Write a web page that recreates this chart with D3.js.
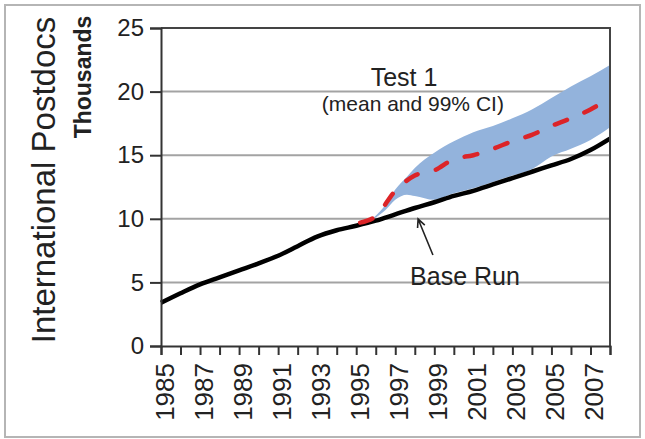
<!DOCTYPE html>
<html>
<head>
<meta charset="utf-8">
<script src="https://cdn.jsdelivr.net/npm/d3@7"></script>
<style>
  html, body { margin: 0; padding: 0; background: #fff; }
  svg { display: block; font-family: "Liberation Sans", Arial, Helvetica, sans-serif; }
</style>
</head>
<body>
<svg id="chart" width="645" height="439"></svg>
<script>
// International postdocs (thousands): base run vs. Test 1 mean with 99% CI
const baseYears = [1985, 1986, 1987, 1988, 1989, 1990, 1991, 1992, 1993, 1994, 1995, 1996,
                   1997, 1998, 1999, 2000, 2001, 2002, 2003, 2004, 2005, 2006, 2007, 2008];
const baseRun = [3.4, 4.15, 4.85, 5.4, 5.95, 6.5, 7.1, 7.85, 8.6, 9.1, 9.45, 9.85,
                 10.35, 10.85, 11.3, 11.8, 12.2, 12.7, 13.2, 13.7, 14.2, 14.7, 15.4, 16.3];

const testYears = [1995.2, 1996, 1997, 1998, 1999, 2000, 2001, 2002, 2003, 2004, 2005, 2006, 2007, 2008];
const testMean  = [9.7, 10.2, 12.2, 13.4, 13.8, 14.7, 15.0, 15.5, 16.1, 16.6, 17.3, 17.9, 18.6, 19.5];

const ciYears = [1995.9, 1996.5, 1997, 1997.6, 1998, 1999, 2000, 2001, 2002, 2003, 2004, 2005, 2006, 2007, 2008];
const ciLow   = [10.0, 10.7, 11.5, 11.9, 11.8, 11.5, 12.0, 12.4, 12.9, 13.4, 13.9, 14.9, 15.5, 16.2, 17.2];
const ciHigh  = [10.1, 11.1, 12.3, 13.3, 14.0, 15.2, 16.1, 16.8, 17.3, 17.9, 18.6, 19.5, 20.4, 21.2, 22.1];

const yTicks = [0, 5, 10, 15, 20, 25];
const xTickYears = d3.range(1985, 2009);
const xLabelYears = [1985, 1987, 1989, 1991, 1993, 1995, 1997, 1999, 2001, 2003, 2005, 2007];

const svg = d3.select("#chart");
const x = d3.scaleLinear().domain([1985, 2008]).range([161, 610]);
const y = d3.scaleLinear().domain([0, 25]).range([346, 28]);

// outer frame
svg.append("rect")
  .attr("x", 5).attr("y", 5).attr("width", 635).attr("height", 432)
  .attr("fill", "none").attr("stroke", "#b5b5b5").attr("stroke-width", 2);

// horizontal gridlines
svg.append("g").selectAll("line")
  .data(yTicks.filter(d => d > 0 && d < 25))
  .join("line")
  .attr("x1", x(1985)).attr("x2", x(2008))
  .attr("y1", d => y(d)).attr("y2", d => y(d))
  .attr("stroke", "#a3a3a3").attr("stroke-width", 2);

// confidence band
const band = ciYears.map((yr, i) => ({ yr, lo: ciLow[i], hi: ciHigh[i] }));
svg.append("path")
  .datum(band)
  .attr("fill", "#93b3dc")
  .attr("d", d3.area()
    .x(d => x(d.yr)).y0(d => y(d.lo)).y1(d => y(d.hi))
    .curve(d3.curveMonotoneX));

// base run
svg.append("path")
  .datum(baseYears.map((yr, i) => [yr, baseRun[i]]))
  .attr("fill", "none").attr("stroke", "#000").attr("stroke-width", 4.5)
  .attr("stroke-linejoin", "round")
  .attr("d", d3.line().x(d => x(d[0])).y(d => y(d[1])).curve(d3.curveMonotoneX));

// Test 1 mean
svg.append("path")
  .datum(testYears.map((yr, i) => [yr, testMean[i]]))
  .attr("fill", "none").attr("stroke", "#dc2428").attr("stroke-width", 4.5)
  .attr("stroke-dasharray", "13,19").attr("stroke-linecap", "round")
  .attr("d", d3.line().x(d => x(d[0])).y(d => y(d[1])).curve(d3.curveMonotoneX));

// plot border (top and right)
svg.append("path")
  .attr("d", `M${x(1985)},${y(25)}H${x(2008)}V${y(0)}`)
  .attr("fill", "none").attr("stroke", "#444").attr("stroke-width", 2);

// y axis
const yAxis = svg.append("g")
  .attr("transform", `translate(${x(1985)},0)`)
  .call(d3.axisLeft(y).tickValues(yTicks).tickSize(11).tickPadding(6));
yAxis.select(".domain").attr("stroke", "#333").attr("stroke-width", 2);
yAxis.selectAll(".tick line").attr("stroke", "#333").attr("stroke-width", 2);
yAxis.selectAll(".tick text")
  .attr("font-size", 24).attr("fill", "#222")
  .attr("font-family", "Liberation Sans, Arial, sans-serif");

// x axis
const xAxis = svg.append("g")
  .attr("transform", `translate(0,${y(0)})`)
  .call(d3.axisBottom(x).tickValues(xTickYears).tickSize(9)
    .tickFormat(d => xLabelYears.includes(d) ? String(d) : ""));
xAxis.select(".domain").attr("stroke", "#333").attr("stroke-width", 2);
xAxis.selectAll(".tick line").attr("stroke", "#333").attr("stroke-width", 2);
xAxis.selectAll(".tick text")
  .attr("font-size", 26).attr("fill", "#222")
  .attr("font-family", "Liberation Sans, Arial, sans-serif")
  .attr("text-anchor", "end")
  .attr("dy", null)
  .attr("y", 0)
  .attr("transform", "translate(12,17) rotate(-90)");

// y axis titles
svg.append("text")
  .attr("transform", `translate(55,180) rotate(-90)`)
  .attr("text-anchor", "middle")
  .attr("font-size", 33).attr("fill", "#222")
  .text("International Postdocs");
svg.append("text")
  .attr("transform", `translate(91,77) rotate(-90)`)
  .attr("text-anchor", "middle")
  .attr("font-size", 23).attr("font-weight", "bold").attr("fill", "#222")
  .text("Thousands");

// annotations
svg.append("text")
  .attr("x", x(1997.45)).attr("y", y(20.44))
  .attr("text-anchor", "middle").attr("font-size", 25).attr("fill", "#222")
  .text("Test 1");
svg.append("text")
  .attr("x", x(1997.9)).attr("y", y(18.47))
  .attr("text-anchor", "middle").attr("font-size", 21).attr("fill", "#222")
  .text("(mean and 99% CI)");
svg.append("text")
  .attr("x", x(1997.76)).attr("y", y(4.8))
  .attr("font-size", 25).attr("fill", "#222")
  .text("Base Run");

// arrow pointing at the base run
const tip = [x(1998.17), y(9.98)], tail = [x(1998.93), y(7.15)];
const ang = Math.atan2(tail[1] - tip[1], tail[0] - tip[0]);
const head = 9, spread = 0.45;
svg.append("path")
  .attr("d", `M${tail[0]},${tail[1]}L${tip[0]},${tip[1]}` +
    `M${tip[0] + head * Math.cos(ang - spread)},${tip[1] + head * Math.sin(ang - spread)}` +
    `L${tip[0]},${tip[1]}` +
    `L${tip[0] + head * Math.cos(ang + spread)},${tip[1] + head * Math.sin(ang + spread)}`)
  .attr("fill", "none").attr("stroke", "#222").attr("stroke-width", 1.6);
</script>
</body>
</html>
